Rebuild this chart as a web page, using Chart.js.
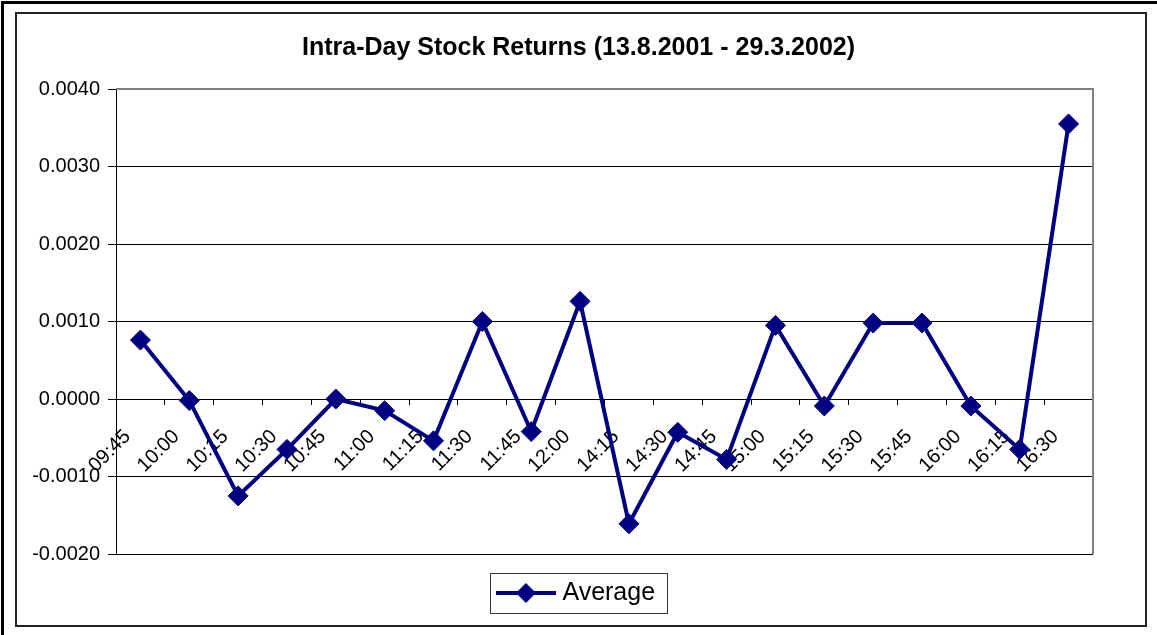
<!DOCTYPE html>
<html>
<head>
<meta charset="utf-8">
<script src="https://cdn.jsdelivr.net/npm/chart.js@4/dist/chart.umd.min.js"></script>
<style>
  html, body { margin: 0; padding: 0; background: #fff; }
  .wrap { position: relative; width: 1157px; height: 635px; overflow: hidden; }
  .outer { position: absolute; left: 1px; top: 1px; width: 1200px; height: 700px;
           border-top: 3px solid #000; border-left: 3px solid #000; }
  .inner { position: absolute; left: 15px; top: 12px; width: 1128px; height: 611px;
           border: 2px solid #222; }
  canvas { position: absolute; left: 0; top: 0; }
</style>
</head>
<body>
<div class="wrap">
  <div class="outer"></div>
  <div class="inner"></div>
  <canvas id="returns" width="1157" height="635"></canvas>
</div>
<script>
// time slots of the trading day
const times = ['09:45', '10:00', '10:15', '10:30', '10:45', '11:00', '11:15', '11:30', '11:45', '12:00',
               '14:15', '14:30', '14:45', '15:00', '15:15', '15:30', '15:45', '16:00', '16:15', '16:30'];
// average return per slot
const average = [0.00076, -0.00002, -0.00125, -0.00065, 0.00000, -0.00015, -0.00054, 0.00100, -0.00042, 0.00126,
                 -0.00161, -0.00043, -0.00078, 0.00095, -0.00009, 0.00098, 0.00098, -0.00009, -0.00065, 0.00355];
const yTicks = [-0.002, -0.001, 0, 0.001, 0.002, 0.003, 0.004];

const navy = '#000080';
const font = "'Liberation Sans', Arial, sans-serif";

// legend symbol: line with a diamond in the middle
let sym = document.createElement('canvas');
sym.width = 60; sym.height = 24;
let sc = sym.getContext('2d');
sc.strokeStyle = navy; sc.lineWidth = 4;
sc.beginPath(); sc.moveTo(0, 12); sc.lineTo(60, 12); sc.stroke();
sc.fillStyle = navy;
sc.beginPath(); sc.moveTo(20, 12); sc.lineTo(30, 2); sc.lineTo(40, 12); sc.lineTo(30, 22); sc.closePath(); sc.fill();

// gray plot frame + legend box
const frames = {
    id: 'frames',
    beforeDatasetsDraw(chart) {
        let a = chart.chartArea, ctx = chart.ctx;
        ctx.save();
        ctx.strokeStyle = '#808080'; ctx.lineWidth = 2;
        ctx.beginPath();
        ctx.moveTo(a.left, a.top); ctx.lineTo(a.right, a.top); ctx.lineTo(a.right, a.bottom);
        ctx.stroke();
        ctx.restore();
    },
    afterDraw(chart) {
        let hb = chart.legend.legendHitBoxes[0], ctx = chart.ctx;
        if (!hb) return;
        let cy = hb.top + hb.height / 2;
        ctx.save();
        ctx.strokeStyle = '#333'; ctx.lineWidth = 1;
        ctx.strokeRect(Math.round(hb.left - 12) + 0.5, Math.round(cy - 20) + 0.5, Math.round(hb.width + 24), 40);
        ctx.restore();
    }
};

new Chart(document.getElementById('returns'), {
    type: 'line',
    data: {
        labels: times,
        datasets: [{
            label: 'Average',
            data: average,
            borderColor: navy,
            backgroundColor: navy,
            borderWidth: 4,
            tension: 0,
            pointStyle: 'rectRot',
            pointRadius: 10,
            pointBorderWidth: 1,
            pointBackgroundColor: navy,
            pointBorderColor: navy
        }]
    },
    options: {
        responsive: false,
        animation: false,
        layout: { padding: { left: 0, right: 0, top: 0, bottom: 19.5 } },
        plugins: {
            title: {
                display: true,
                text: 'Intra-Day Stock Returns (13.8.2001 - 29.3.2002)',
                color: '#000',
                font: { family: font, size: 25, weight: 'bold' },
                padding: { top: 33, bottom: 26 }
            },
            legend: {
                position: 'bottom',
                labels: {
                    usePointStyle: true,
                    pointStyleWidth: 48,
                    padding: 26.5,
                    color: '#000',
                    font: { family: font, size: 25 },
                    generateLabels: (chart) => [{
                        text: 'Average', pointStyle: sym, datasetIndex: 0,
                        fillStyle: navy, strokeStyle: navy, lineWidth: 0
                    }]
                }
            },
            tooltip: { enabled: false }
        },
        scales: {
            x: {
                position: { y: 0 },
                offset: true,
                afterFit: (s) => { s.height = 0; },
                grid: { display: true, offset: true, drawOnChartArea: false, drawTicks: true, tickLength: 5, color: '#000' },
                border: { display: true, color: '#000', width: 1 },
                ticks: {
                    autoSkip: false, minRotation: 45, maxRotation: 45, padding: 21, labelOffset: -13,
                    color: '#000', font: { family: font, size: 20 }
                }
            },
            y: {
                min: -0.002,
                max: 0.004,
                afterFit: (s) => { s.width = 116; },
                afterBuildTicks: (s) => { s.ticks = yTicks.map(v => ({ value: v })); },
                grid: { color: '#000', lineWidth: 1, tickLength: 8 },
                border: { display: true, color: '#000', width: 1 },
                ticks: {
                    padding: 8,
                    color: '#000', font: { family: font, size: 20 },
                    callback: (v) => v.toFixed(4)
                }
            },
            // empty right-hand axis, only reserves the margin right of the plot
            y2: {
                position: 'right',
                afterFit: (s) => { s.width = 64; },
                grid: { display: false, drawTicks: false },
                border: { display: false },
                ticks: { display: false }
            }
        }
    },
    plugins: [frames]
});
</script>
</body>
</html>
